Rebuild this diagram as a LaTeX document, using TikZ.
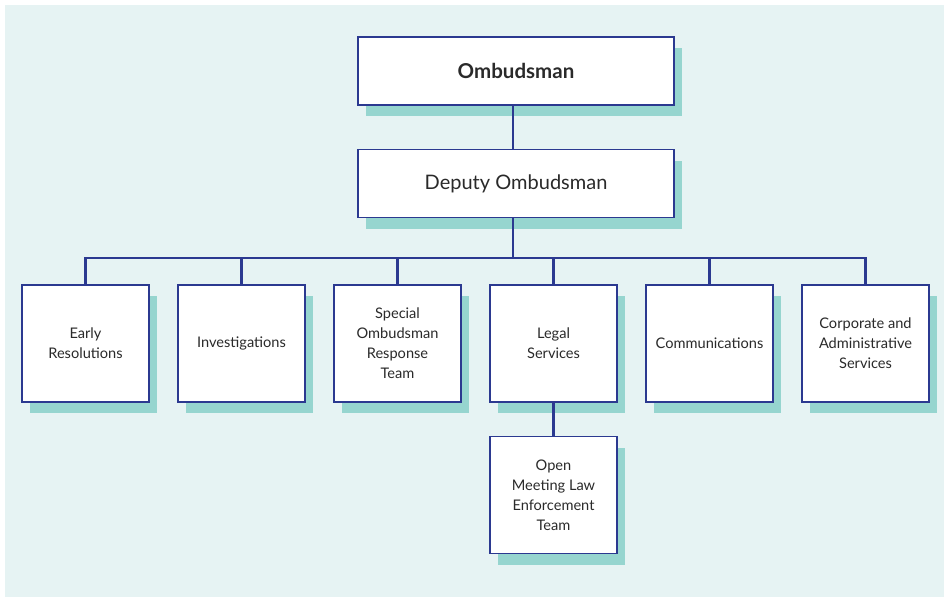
\documentclass[tikz,border=0pt]{standalone}
\usepackage{fontspec}
\setmainfont{Lato}
\usetikzlibrary{shadows}
\definecolor{panel}{HTML}{E6F3F3}
\definecolor{shadowc}{HTML}{96D5CF}
\definecolor{edge}{HTML}{2B3990}
\definecolor{txt}{HTML}{2A2A2A}
\tikzset{
  box/.style={draw=edge, line width=1.4pt, fill=white, text=txt, align=center,
    drop shadow={shadow xshift=8pt, shadow yshift=-11pt, fill=shadowc, opacity=1}},
  topbox/.style={box, minimum width=316pt, minimum height=68pt, font=\fontsize{20}{24}\selectfont},
  unitbox/.style={box, minimum width=127pt, minimum height=117pt, font=\fontsize{14.6}{20}\selectfont},
  link/.style={draw=edge, line width=2.5pt}
}
\begin{document}
\begin{tikzpicture}[x=1pt,y=-1pt]
\useasboundingbox (0,0) rectangle (944,597);
\fill[panel] (5,5) rectangle (944,597);
\coordinate (mid) at (513,258);
\node[topbox, font=\fontsize{20.5}{24}\selectfont\bfseries] (omb) at (516,71) {Ombudsman};
\node[topbox] (dep) at (516,183.5) {Deputy Ombudsman};
\node[unitbox] (u1) at (85.5,343.5) {Early\\Resolutions};
\node[unitbox] (u2) at (241.5,343.5) {Investigations};
\node[unitbox] (u3) at (397.5,343.5) {Special\\Ombudsman\\Response\\Team};
\node[unitbox] (u4) at (553.5,343.5) {Legal\\Services};
\node[unitbox] (u5) at (709.5,343.5) {Communications};
\node[unitbox] (u6) at (865.5,343.5) {Corporate and\\Administrative\\Services};
\node[unitbox] (u7) at (553.5,495) {Open\\Meeting Law\\Enforcement\\Team};
\draw[link] (omb.south -| mid) -- (dep.north -| mid);
\draw[link] (dep.south -| mid) -- (mid);
\draw[link] (u1.north) |- (mid) -| (u6.north);
\foreach \u in {u2,u3,u4,u5}{\draw[link] (\u.north) -- (\u.north |- mid);}
\draw[link] (u4.south) -- (u7.north);
\end{tikzpicture}
\end{document}
